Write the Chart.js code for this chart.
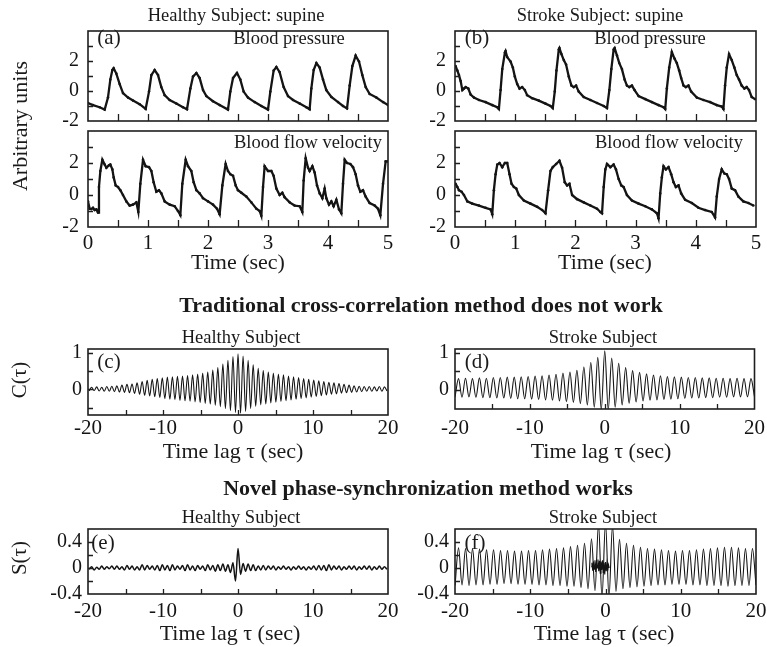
<!DOCTYPE html>
<html>
<head>
<meta charset="utf-8">
<script src="https://cdn.jsdelivr.net/npm/chart.js@4.4.1/dist/chart.umd.min.js"></script>
<style>
  html, body { margin: 0; padding: 0; background: #fff; }
  #fig { position: relative; width: 767px; height: 647px; overflow: hidden;
         font-family: "Liberation Serif", "Times New Roman", serif; color: #1a1a1a; }
  #fig canvas { position: absolute; }
  .t { position: absolute; white-space: nowrap; line-height: 1; transform: translate(-50%, -50%); }
  .rot { transform: translate(-50%, -50%) rotate(-90deg); }
  .b { font-weight: bold; }
</style>
</head>
<body>
<div id="fig"></div>
<script>
// ---------- recorded signals, healthy subject (supine) ----------
const bpHealthyTime = [0,0.083,0.194,0.278,0.333,0.372,0.406,0.428,0.472,0.528,0.583,0.667,0.75,0.861,0.961,
  1.017,1.056,1.111,1.167,1.222,1.278,1.361,1.472,1.583,1.65,1.706,1.75,1.806,1.861,1.917,1.972,
  2.083,2.194,2.333,2.372,2.417,2.483,2.539,2.594,2.667,2.778,2.889,3.0,3.039,3.094,3.139,3.194,3.261,
  3.333,3.417,3.528,3.639,3.694,3.722,3.761,3.806,3.861,3.917,3.972,4.056,4.167,4.25,4.317,4.361,
  4.406,4.461,4.517,4.572,4.628,4.694,4.806,4.917,5.0];
const bpHealthyValue = [-0.8,-0.94,-1.08,-1.24,-0.44,0.76,1.4,1.52,1.16,0.46,-0.14,-0.44,-0.64,-0.88,-1.2,
  -0.04,1.06,1.4,1.06,0.26,-0.28,-0.6,-0.84,-1.08,-1.22,0.16,0.96,1.2,0.86,0.06,-0.34,
  -0.68,-0.94,-1.24,-0.04,0.86,1.2,0.76,-0.04,-0.44,-0.74,-1.0,-1.24,-0.04,1.36,1.6,1.26,0.26,
  -0.34,-0.6,-0.84,-1.08,-1.22,0.16,1.4,1.86,1.56,0.76,0.06,-0.4,-0.74,-1.0,-1.16,0.36,
  1.66,2.36,1.96,1.06,0.26,-0.2,-0.44,-0.74,-0.94];

const bfvHealthyTime = [0,0.028,0.056,0.083,0.111,0.139,0.167,0.183,0.206,0.239,0.278,0.306,0.35,0.372,0.406,
  0.428,0.461,0.5,0.539,0.583,0.639,0.694,0.75,0.806,0.839,0.872,0.917,0.961,1.017,1.056,1.094,1.139,
  1.183,1.222,1.278,1.361,1.444,1.5,1.539,1.572,1.628,1.667,1.722,1.761,1.806,1.861,1.917,2.0,2.083,
  2.15,2.194,2.239,2.294,2.333,2.372,2.417,2.461,2.5,2.556,2.639,2.722,2.806,2.861,2.889,2.917,2.944,
  3.0,3.056,3.094,3.139,3.194,3.239,3.278,3.361,3.444,3.528,3.572,3.594,3.628,3.667,3.694,3.739,3.778,
  3.817,3.861,3.906,3.944,3.972,4.017,4.056,4.094,4.139,4.183,4.222,4.25,4.278,4.317,4.372,4.417,
  4.461,4.5,4.539,4.583,4.628,4.694,4.778,4.833,4.872,4.917,4.961,5.0];
const bfvHealthyValue = [-0.4,-0.86,-0.88,-0.8,-0.94,-0.9,-1.1,0.5,1.5,2.2,1.9,1.7,1.86,1.9,1.6,
  1.1,0.6,0.5,0.3,0.0,-0.4,-0.66,-0.6,-0.46,-1.06,0.7,2.2,1.8,1.74,1.5,0.8,0.2,
  0.3,0.1,-0.4,-0.6,-0.7,-1.0,-1.26,0.7,2.2,1.8,1.5,0.8,0.3,0.1,-0.2,-0.4,-0.6,
  -0.86,-1.2,0.6,1.94,1.5,1.3,1.2,0.6,0.3,0.14,-0.1,-0.46,-0.86,-1.0,-1.3,0.5,1.8,
  1.5,1.5,1.2,0.4,0.0,0.14,-0.14,-0.46,-0.66,-0.7,-1.06,0.9,2.3,1.7,1.5,1.8,1.4,
  0.6,0.1,-0.2,0.4,-0.2,-0.6,-0.4,-0.7,-0.3,-0.9,-1.14,0.7,2.2,2.0,1.94,1.74,
  1.3,0.6,0.2,0.3,-0.1,-0.5,-0.66,-0.86,-1.26,0.7,2.1,2.1];

// ---------- recorded signals, stroke subject (supine) ----------
const bpStrokeTime = [0.011,0.039,0.066,0.094,0.122,0.149,0.177,0.221,0.26,0.315,0.398,0.508,0.619,0.702,0.729,
  0.757,0.785,0.829,0.84,0.867,0.923,0.961,0.994,1.033,1.072,1.116,1.16,1.199,1.282,1.392,1.503,1.586,1.624,
  1.657,1.685,1.724,1.735,1.768,1.807,1.845,1.89,1.934,1.972,2.011,2.055,2.138,2.249,2.359,2.47,2.525,
  2.564,2.597,2.635,2.652,2.691,2.729,2.773,2.818,2.856,2.895,2.939,2.983,3.05,3.16,3.271,3.381,3.464,3.492,
  3.519,3.558,3.602,3.646,3.685,3.724,3.757,3.796,3.834,3.878,3.923,4.017,4.127,4.238,4.348,4.431,4.459,
  4.486,4.514,4.552,4.597,4.641,4.68,4.718,4.762,4.807,4.845,4.884,4.928,4.983];
const bpStrokeValue = [1.66,1.36,1.06,0.66,0.06,0.16,0.26,0.16,-0.24,-0.44,-0.6,-0.74,-0.94,-1.08,-1.2,
  0.06,1.46,2.56,2.66,2.26,1.96,1.56,0.96,0.46,0.16,0.26,0.06,-0.28,-0.48,-0.64,-0.84,-1.0,-1.14,
  -0.04,1.36,2.76,2.86,2.46,2.06,1.76,0.96,0.36,0.26,0.36,-0.04,-0.4,-0.6,-0.8,-1.0,-1.14,
  0.06,1.46,2.76,2.86,2.36,1.86,1.46,0.76,0.36,0.26,0.36,0.06,-0.34,-0.54,-0.74,-0.94,-1.08,-1.2,
  0.16,1.56,2.6,2.16,1.86,1.36,0.86,0.36,0.26,0.36,-0.04,-0.44,-0.6,-0.74,-0.94,-1.04,-1.2,
  0.36,1.56,2.46,2.06,1.56,1.06,0.76,0.36,0.16,0.26,0.06,-0.4,-0.54];

const bfvStrokeTime = [0.011,0.039,0.066,0.11,0.149,0.204,0.287,0.398,0.508,0.591,0.619,0.646,0.674,0.702,0.74,
  0.785,0.829,0.867,0.906,0.939,0.978,1.017,1.061,1.144,1.254,1.365,1.448,1.503,1.547,1.586,1.624,1.68,
  1.735,1.779,1.823,1.862,1.901,1.945,2.028,2.138,2.249,2.359,2.414,2.442,2.47,2.497,2.525,2.58,2.635,
  2.674,2.718,2.762,2.801,2.856,2.939,3.05,3.16,3.271,3.354,3.381,3.409,3.436,3.464,3.503,3.547,3.591,
  3.63,3.669,3.713,3.757,3.823,3.934,4.044,4.155,4.265,4.32,4.348,4.387,4.431,4.475,4.514,4.552,4.597,
  4.652,4.707,4.79,4.873,4.956];
const bfvStrokeValue = [0.7,0.5,0.3,0.2,0.0,-0.4,-0.54,-0.66,-0.8,-0.9,-1.2,0.3,1.3,1.9,2.0,
  1.74,2.0,2.0,1.3,0.7,0.5,0.4,0.0,-0.34,-0.54,-0.74,-0.94,-1.14,0.3,1.5,1.74,1.94,
  2.14,1.7,0.8,0.6,0.7,0.0,-0.26,-0.46,-0.66,-0.86,-1.06,-1.14,0.5,1.6,1.94,1.74,1.9,
  1.6,1.0,0.6,0.5,0.0,-0.34,-0.54,-0.7,-0.9,-1.14,-1.46,0.1,1.1,1.8,1.6,1.74,1.3,
  0.8,0.5,0.6,0.1,-0.3,-0.5,-0.8,-0.94,-1.06,-1.4,-0.1,1.0,1.6,1.34,1.3,1.0,0.4,
  0.3,-0.1,-0.4,-0.5,-0.66];

// ---------- lag functions, sampled on uniform lag grids ----------
// healthy subject: one sample per half heartbeat (0.3365 s), first lag -19.85 s
const healthyLagStart = -19.85, healthyLagStep = 0.3365;
const crossCorrHealthy = [
  -0.04,0.06,-0.03,0.07,-0.04,0.06,-0.05,0.08,-0.05,0.09,
  -0.06,0.10,-0.07,0.12,-0.08,0.14,-0.09,0.15,-0.11,0.18,
  -0.13,0.22,-0.16,0.25,-0.18,0.28,-0.20,0.30,-0.22,0.32,
  -0.25,0.34,-0.27,0.35,-0.28,0.36,-0.30,0.37,-0.31,0.38,
  -0.32,0.40,-0.34,0.42,-0.36,0.45,-0.38,0.48,-0.40,0.53,
  -0.43,0.60,-0.47,0.70,-0.52,0.80,-0.58,0.90,-0.63,
  0.98,
  -0.65,0.92,-0.60,0.80,-0.52,0.68,-0.46,0.58,-0.42,0.52,
  -0.40,0.48,-0.37,0.45,-0.35,0.42,-0.33,0.40,-0.31,0.37,
  -0.29,0.35,-0.27,0.33,-0.25,0.30,-0.23,0.28,-0.21,0.26,
  -0.19,0.24,-0.17,0.22,-0.15,0.20,-0.13,0.18,-0.12,0.16,
  -0.10,0.14,-0.09,0.12,-0.08,0.10,-0.07,0.09,-0.06,0.08,
  -0.05,0.08,-0.05,0.07,-0.04,0.08,-0.05,0.07,-0.04];
const phaseSyncHealthy = [
  -0.02,0.02,-0.03,0.01,-0.02,0.03,-0.02,0.02,-0.01,0.03,
  -0.02,0.03,-0.02,0.02,-0.03,0.04,-0.02,0.03,-0.03,0.02,
  -0.03,0.05,-0.03,0.04,-0.02,0.03,-0.03,0.04,-0.04,0.05,
  -0.03,0.04,-0.04,0.05,-0.03,0.03,-0.02,0.04,-0.04,0.05,
  -0.03,0.03,-0.04,0.04,-0.02,0.03,-0.04,0.05,-0.03,0.04,
  -0.05,0.05,-0.04,0.06,-0.05,0.05,-0.07,0.08,-0.20,
  0.30,
  -0.10,0.07,-0.05,0.06,-0.04,0.05,-0.04,0.03,-0.03,0.04,
  -0.03,0.03,-0.02,0.03,-0.03,0.02,-0.02,0.03,-0.02,0.02,
  -0.03,0.02,-0.02,0.03,-0.02,0.02,-0.03,0.02,-0.02,0.03,
  -0.03,0.04,-0.03,0.04,-0.04,0.05,-0.03,0.03,-0.02,0.03,
  -0.03,0.02,-0.02,0.03,-0.02,0.03,-0.03,0.02,-0.02,0.03,
  -0.02,0.03,-0.03,0.02,-0.02,0.03,-0.02,0.02,-0.02];

// stroke subject: one sample per half heartbeat (0.465 s), first lag -19.995 s
const strokeLagStart = -19.995, strokeLagStep = 0.465;
const crossCorrStroke = [
  -0.20,0.30,-0.21,0.31,-0.20,0.30,-0.21,0.32,-0.22,0.31,
  -0.22,0.33,-0.23,0.33,-0.23,0.34,-0.24,0.34,-0.25,0.35,
  -0.25,0.36,-0.26,0.37,-0.27,0.38,-0.28,0.40,-0.29,0.42,
  -0.31,0.45,-0.33,0.48,-0.35,0.53,-0.38,0.62,-0.42,
  0.74,-0.48,0.88,-0.55,1.06,-0.55,0.86,-0.48,0.72,
  -0.42,0.60,-0.37,0.52,-0.34,0.47,-0.31,0.43,-0.29,0.40,
  -0.28,0.38,-0.27,0.36,-0.26,0.35,-0.25,0.34,-0.24,0.33,
  -0.23,0.33,-0.23,0.32,-0.22,0.32,-0.22,0.31,-0.21,0.31,
  -0.21,0.30,-0.20,0.31,-0.20,0.30,-0.20,0.30,-0.19];
const phaseSyncStroke = [
  -0.27,0.31,-0.26,0.30,-0.27,0.30,-0.26,0.29,-0.26,0.28,
  -0.25,0.28,-0.25,0.27,-0.24,0.27,-0.24,0.26,-0.25,0.26,
  -0.25,0.27,-0.25,0.27,-0.26,0.28,-0.26,0.29,-0.27,0.30,
  -0.27,0.31,-0.28,0.33,-0.28,0.35,-0.30,0.38,-0.32,
  0.45,-0.35,0.68,-0.45,0.70,-0.45,0.66,-0.36,0.44,
  -0.32,0.38,-0.30,0.35,-0.29,0.32,-0.28,0.30,-0.27,0.29,
  -0.26,0.28,-0.26,0.27,-0.25,0.26,-0.25,0.27,-0.25,0.27,
  -0.26,0.28,-0.26,0.29,-0.27,0.30,-0.27,0.31,-0.27,0.32,
  -0.28,0.32,-0.27,0.31,-0.27,0.30,-0.27,0.30,-0.26];
// fast jitter of the stroke-subject index around zero lag
const phaseSyncStrokeCoreLag = [-1.9,-1.8,-1.7,-1.6,-1.5,-1.4,-1.3,-1.2,-1.1,-1.0,-0.9,-0.8,-0.7,-0.6,-0.5,-0.4,
  -0.3,-0.2,-0.1,0.0,0.1,0.2,0.3,0.4,0.5];
const phaseSyncStrokeCore = [0.02,0.08,-0.04,0.10,-0.02,0.12,-0.06,0.09,0.0,0.13,-0.05,0.11,-0.08,0.1,-0.03,0.12,
  -0.07,0.08,-0.1,0.09,-0.05,0.07,-0.04,0.05,0.0];

// ---------- axis ticks and their labels ----------
const timeTicks = [0,0.5,1,1.5,2,2.5,3,3.5,4,4.5,5];
const timeLabels = ['0','','1','','2','','3','','4','','5'];
const unitsTicks = [-2,-1,0,1,2,3,4];
const unitsLabels = ['-2','','0','','2','',''];
const lagTicks = [-20,-15,-10,-5,0,5,10,15,20];
const lagLabels = ['-20','','-10','','0','','10','','20'];
const corrTicks = [-0.5,0,0.5,1];
const corrLabels = ['','0','','1'];
const syncTicks = [-0.4,-0.2,0,0.2,0.4];
const syncLabels = ['-0.4','','0','','0.4'];

// ---------- drawing ----------
const FONT = '"Liberation Serif", "Times New Roman", serif';
const INK = '#141414';
const PAD = 16, AXIS_W = 60;
const fig = document.getElementById('fig');

function lagGrid(start, step, n) {
  const out = [];
  for (let i = 0; i < n; i++) out.push(+(start + i * step).toFixed(4));
  return out;
}
function labelFor(ticks, labels, v) {
  const i = ticks.findIndex(t => Math.abs(t - v) < 1e-9);
  return i < 0 ? '' : labels[i];
}
function series(xs, ys, c) {
  return {
    data: xs.map((x, i) => ({ x: x, y: ys[i] })),
    borderColor: INK,
    borderWidth: c.lineW,
    pointRadius: c.pointR,
    pointBackgroundColor: INK,
    pointBorderWidth: 0,
    pointHoverRadius: 0,
    tension: 0,
    cubicInterpolationMode: c.smooth ? 'monotone' : 'default',
    fill: false
  };
}

function panel(c) {
  const canvas = document.createElement('canvas');
  const W = c.w + AXIS_W + 2 * PAD, H = c.h + c.xAxisH + 2 * PAD;
  canvas.width = W; canvas.height = H;
  canvas.style.width = W + 'px'; canvas.style.height = H + 'px';
  canvas.style.left = (c.left - AXIS_W - PAD) + 'px';
  canvas.style.top = (c.top - PAD) + 'px';
  fig.appendChild(canvas);

  // box around the plot plus inward tick marks
  const frame = {
    id: 'frame',
    afterDatasetsDraw(chart) {
      const { ctx, chartArea: a } = chart;
      const xs = chart.scales.x, ys = chart.scales.y;
      ctx.save();
      ctx.strokeStyle = '#1e1e1e';
      ctx.lineWidth = 1.3;
      ctx.beginPath();
      c.xTicks.forEach(v => {
        const px = Math.round(xs.getPixelForValue(v)) + 0.5;
        if (px > a.left + 2 && px < a.right - 2) { ctx.moveTo(px, a.bottom); ctx.lineTo(px, a.bottom - c.xTickLen); }
      });
      c.yTicks.forEach(v => {
        const py = Math.round(ys.getPixelForValue(v)) + 0.5;
        if (py > a.top + 2 && py < a.bottom - 2) { ctx.moveTo(a.left, py); ctx.lineTo(a.left + 5, py); }
      });
      ctx.stroke();
      ctx.lineWidth = 1.6;
      ctx.strokeRect(a.left, a.top, a.right - a.left, a.bottom - a.top);
      ctx.restore();
    }
  };

  const datasets = [series(c.xs, c.ys, c)];
  if (c.extra) datasets.push(series(c.extra[0], c.extra[1], Object.assign({}, c, { smooth: false })));

  new Chart(canvas, {
    type: 'line',
    data: { datasets: datasets },
    options: {
      responsive: false,
      animation: false,
      events: [],
      layout: { padding: PAD },
      plugins: { legend: { display: false }, tooltip: { enabled: false } },
      scales: {
        x: {
          type: 'linear', min: c.xMin, max: c.xMax,
          afterBuildTicks: s => { s.ticks = c.xTicks.map(v => ({ value: v })); },
          afterFit: s => { s.height = c.xAxisH; },
          grid: { display: false, drawTicks: false }, border: { display: false },
          ticks: {
            display: c.xLabelsOn, autoSkip: false, maxRotation: 0, minRotation: 0,
            padding: c.xPad, color: INK, font: { family: FONT, size: 21 },
            callback: v => labelFor(c.xTicks, c.xLabels, v)
          }
        },
        y: {
          type: 'linear', min: c.yMin, max: c.yMax,
          afterBuildTicks: s => { s.ticks = c.yTicks.map(v => ({ value: v })); },
          afterFit: s => { s.width = AXIS_W; },
          grid: { display: false, drawTicks: false }, border: { display: false },
          ticks: {
            autoSkip: false, padding: c.yPad, color: INK, font: { family: FONT, size: 20 },
            callback: v => labelFor(c.yTicks, c.yLabels, v)
          }
        }
      }
    },
    plugins: [frame]
  });
}

const signalStyle = { lineW: 2.3, pointR: 1.3, smooth: false, yPad: 9 };
const lagStyle = { lineW: 1.1, pointR: 0, smooth: true, yPad: 6 };
const timeAxis = { xMin: 0, xMax: 5, xTicks: timeTicks, xLabels: timeLabels, yMin: -2, yMax: 4, yTicks: unitsTicks, yLabels: unitsLabels };
const lagAxis = { xMin: -20, xMax: 20, xTicks: lagTicks, xLabels: lagLabels, xLabelsOn: true, xAxisH: 30, xTickLen: 5 };

const lagH = lagGrid(healthyLagStart, healthyLagStep, crossCorrHealthy.length);
const lagS = lagGrid(strokeLagStart, strokeLagStep, crossCorrStroke.length);

// (a) healthy subject
panel(Object.assign({ left: 88, top: 26, w: 300, h: 100, xLabelsOn: false, xAxisH: 0, xTickLen: 7, xPad: 4,
  xs: bpHealthyTime, ys: bpHealthyValue }, timeAxis, signalStyle));
panel(Object.assign({ left: 88, top: 126, w: 300, h: 101, xLabelsOn: true, xAxisH: 30, xTickLen: 7, xPad: 4,
  xs: bfvHealthyTime, ys: bfvHealthyValue }, timeAxis, signalStyle));
// (b) stroke subject
panel(Object.assign({ left: 455, top: 26, w: 301, h: 100, xLabelsOn: false, xAxisH: 0, xTickLen: 7, xPad: 4,
  xs: bpStrokeTime, ys: bpStrokeValue }, timeAxis, signalStyle));
panel(Object.assign({ left: 455, top: 126, w: 301, h: 101, xLabelsOn: true, xAxisH: 30, xTickLen: 7, xPad: 4,
  xs: bfvStrokeTime, ys: bfvStrokeValue }, timeAxis, signalStyle));
// (c), (d) cross-correlation
panel(Object.assign({ left: 88, top: 347, w: 300, h: 68, yMin: -0.7, yMax: 1.11, yTicks: corrTicks, yLabels: corrLabels, xPad: 1,
  xs: lagH, ys: crossCorrHealthy }, lagAxis, lagStyle));
panel(Object.assign({ left: 455, top: 347, w: 301, h: 62, yMin: -0.53, yMax: 1.11, yTicks: corrTicks, yLabels: corrLabels, xPad: 7,
  xs: lagS, ys: crossCorrStroke }, lagAxis, lagStyle));
// (e), (f) phase synchronization
panel(Object.assign({ left: 88, top: 527, w: 300, h: 67, yMin: -0.4, yMax: 0.6, yTicks: syncTicks, yLabels: syncLabels, xPad: 5,
  xs: lagH, ys: phaseSyncHealthy }, lagAxis, lagStyle, { lineW: 1.5 }));
panel(Object.assign({ left: 455, top: 527, w: 301, h: 67, yMin: -0.4, yMax: 0.6, yTicks: syncTicks, yLabels: syncLabels, xPad: 5,
  xs: lagS, ys: phaseSyncStroke, extra: [phaseSyncStrokeCoreLag, phaseSyncStrokeCore] }, lagAxis, lagStyle));

// ---------- titles, panel tags and axis names ----------
const texts = [
  ['Healthy Subject: supine', 236, 15, 18.5, ''],
  ['Stroke Subject: supine', 600, 15, 18.5, ''],
  ['(a)', 109, 37, 21, ''],
  ['Blood pressure', 289, 38, 18.5, ''],
  ['Blood flow velocity', 308, 142, 18.5, ''],
  ['(b)', 477, 37, 21, ''],
  ['Blood pressure', 650, 38, 18.5, ''],
  ['Blood flow velocity', 669, 142, 18.5, ''],
  ['Arbitrary units', 20, 126, 22, 'rot'],
  ['Time (sec)', 238, 262, 22, ''],
  ['Time (sec)', 605, 262, 22, ''],
  ['Traditional cross-correlation method does not work', 421, 305, 22, 'b'],
  ['Healthy Subject', 241, 337, 18.5, ''],
  ['Stroke Subject', 603, 337, 18.5, ''],
  ['(c)', 109, 361, 21, ''],
  ['(d)', 477, 361, 21, ''],
  ['C(τ)', 19, 380, 21, 'rot'],
  ['Time lag τ (sec)', 233, 451, 22, ''],
  ['Time lag τ (sec)', 601, 451, 22, ''],
  ['Novel phase-synchronization method works', 428, 488, 22, 'b'],
  ['Healthy Subject', 241, 517, 18.5, ''],
  ['Stroke Subject', 603, 517, 18.5, ''],
  ['(e)', 103, 542, 21, ''],
  ['(f)', 475, 542, 21, ''],
  ['S(τ)', 19, 558, 21, 'rot'],
  ['Time lag τ (sec)', 230, 633, 22, ''],
  ['Time lag τ (sec)', 604, 633, 22, '']
];
texts.forEach(([s, x, y, size, cls]) => {
  const d = document.createElement('div');
  d.className = 't ' + cls;
  d.textContent = s;
  d.style.left = x + 'px';
  d.style.top = y + 'px';
  d.style.fontSize = size + 'px';
  fig.appendChild(d);
});
</script>
</body>
</html>
